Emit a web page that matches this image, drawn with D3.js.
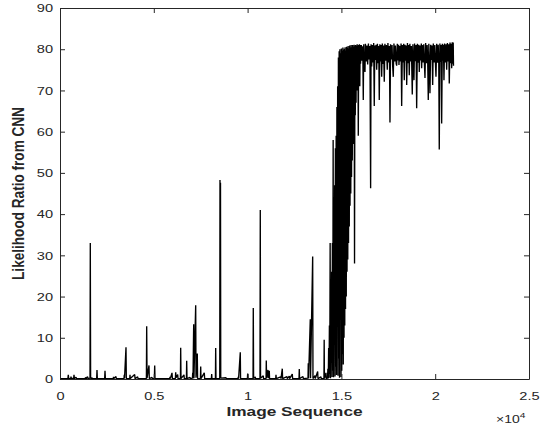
<!DOCTYPE html>
<html>
<head>
<meta charset="utf-8">
<script src="https://cdn.jsdelivr.net/npm/d3@7"></script>
<style>
  body { margin: 0; background: #fff; }
  svg { display: block; font-family: "Liberation Sans", Arial, Helvetica, sans-serif; }
</style>
</head>
<body>
<svg id="grafico" width="542" height="433"></svg>
<script>
// x axis ticks (image index) and y axis ticks (likelihood ratio)
const xTicks = [0, 5000, 10000, 15000, 20000, 25000];
const yTicks = [0, 10, 20, 30, 40, 50, 60, 70, 80, 90];

// low part of the sequence: baseline with isolated spikes  [image index, ratio]
const earlyFrames = [
  [0,0.1],[420,0.1],[442,1.0],[465,0.1],[570,0.1],[586,0.6],[605,0.1],[730,0.2],[746,1.0],[770,0.1],[853,0.4],[880,0.1],
  [1340,0.1],[1359,0.4],[1400,0.1],[1466,0.6],[1490,0.1],[1600,0.2],[1615,33],[1632,0.1],[1706,0.3],[1720,0.1],
  [1955,0.1],[1972,2.2],[1990,0.1],[2380,0.1],[2399,2.0],[2420,0.1],[2840,0.1],[2852,0.5],[2870,0.1],[2985,0.6],[3000,0.1],
  [3410,0.1],[3427,1.0],[3440,0.2],[3518,7.7],[3535,0.1],[3720,0.1],[3731,1.0],[3745,0.1],[3982,1.1],[4000,0.1],[4141,0.5],[4160,0.1],
  [4605,0.1],[4621,12.8],[4640,0.2],[4744,3.3],[4760,0.1],[4904,0.4],[4920,0.1],[5030,0.1],[5048,3.3],[5065,0.1],
  [5850,0.1],[5863,0.5],[5880,0.1],[5970,1.5],[5990,0.1],[6150,0.1],[6167,1.6],[6185,0.3],[6273,1.1],[6290,0.1],
  [6420,0.1],[6433,7.6],[6450,0.1],[6609,1.0],[6625,0.1],[6740,0.1],[6753,4.4],[6770,0.1],[6929,0.4],[6945,0.1],
  [7060,0.2],[7073,1.5],[7090,0.1],[7126,13.3],[7140,0.2],[7233,17.9],[7250,0.3],[7318,6.2],[7335,0.1],[7485,0.1],[7500,3.0],[7515,0.1],
  [7691,1.5],[7710,0.1],[8070,0.1],[8086,1.2],[8100,0.1],[8285,0.1],[8299,7.5],[8315,0.1],[8515,0.1],[8528,48.3],[8542,1.5],[8555,47.6],[8568,0.2],
  [8848,0.3],[8865,0.1],
  [9490,0.1],[9503,0.5],[9520,0.1],[9610,6.5],[9625,0.1],[9990,0.1],[10004,1.3],[10020,0.1],[10290,0.1],[10303,17.2],[10320,0.1],[10409,0.5],[10425,0.1],
  [10660,0.1],[10676,41.0],[10690,0.2],[10836,0.8],[10850,0.1],[10985,0.1],[10996,4.5],[11010,0.3],[11086,2.2],[11100,0.2],[11156,2.0],[11170,0.1],
  [11500,0.1],[11513,1.0],[11530,0.1],[11763,0.5],[11780,0.1],[11849,2.5],[11865,0.1],[12099,0.6],[12115,0.1],[12222,0.7],[12240,0.1],[12382,1.2],[12400,0.1],
  [12740,0.1],[12755,2.4],[12770,0.1],[12952,0.6],[12970,0.1],[13220,0.2],[13234,3.8],[13250,0.1],[13341,14.5],[13355,0.2],[13469,29.7],[13485,0.1],
  [13592,0.8],[13610,0.1],[13735,1.8],[13750,0.1],[13911,0.5],[13925,0.1],[14070,0.1],[14082,9.5],[14095,0.1],[14178,1.5],[14195,0.1]
];

// transition: ratio jumps between low and high while rising
const rampFrames = [
  [14260,0.2],[14280,2.5],[14300,0.1],[14320,7.5],[14340,0.3],[14360,13],[14380,1.2],[14400,33],[14420,0.2],[14440,23.5],
  [14460,4],[14480,26],[14500,0.5],[14520,33],[14540,2],[14560,58],[14580,0.4],[14600,44],[14620,9],[14640,47],
  [14660,0.6],[14680,56],[14700,3],[14720,59],[14740,1],[14760,66],[14780,15],[14800,71],[14820,0.8],[14840,78],
  [14860,5],[14880,79.5],[14900,0.3],[14920,80],[14940,22],[14960,79],[14980,0.5],[15000,80.2],[15020,2],[15040,79.6],
  [15060,6],[15080,80.4],[15100,3.5],[15120,79.8],[15140,10],[15160,80.1],[15180,13],[15200,80.5],[15220,17],[15240,79.7],
  [15260,20],[15280,80.6],[15300,26],[15320,80.3],[15340,29],[15360,80.8],[15380,33],[15400,80.2],[15420,37],[15440,80.9],
  [15460,42],[15480,80.4],[15500,45],[15520,81],[15540,49],[15560,80.5],[15580,53],[15600,81],[15620,57],[15640,80.6],
  [15660,60],[15680,81.1],[15700,28],[15720,80.7],[15740,64],[15760,81],[15780,67],[15800,80.8],[15820,70],[15840,81.2],
  [15860,72],[15880,80.9],[15900,59],[15920,81],[15940,74],[15960,81.2],[15980,71],[16000,81]
];

// plateau: ratio stays near 80 with occasional dips
const lateFrames = [
  [16020,76.5],[16060,81.0],[16100,77.2],[16140,80.7],[16166,67.7],[16190,81.2],[16220,76.0],[16257,74.5],[16280,81.3],[16320,77.0],
  [16360,80.9],[16400,76.3],[16440,81.4],[16480,77.5],[16520,80.8],[16558,46.3],[16580,81.2],[16614,75.8],[16650,81.0],[16690,76.8],
  [16720,81.5],[16752,66.2],[16780,80.9],[16820,77.4],[16850,81.1],[16880,75.0],[16920,81.3],[16960,76.6],[16990,80.8],[17019,67.7],
  [17050,81.2],[17090,77.0],[17120,81.0],[17147,73.3],[17180,81.4],[17220,76.4],[17250,80.9],[17285,72.1],[17320,81.3],[17360,77.2],
  [17400,81.0],[17445,75.0],[17480,81.5],[17520,76.8],[17560,80.8],[17589,62.2],[17620,81.2],[17660,77.5],[17700,81.0],[17730,76.2],
  [17765,73.3],[17800,81.4],[17840,77.0],[17880,80.9],[17920,76.5],[17946,76.0],[17980,81.3],[18020,77.3],[18050,81.1],[18069,76.2],
  [18100,80.8],[18140,77.0],[18180,81.4],[18213,66.2],[18250,81.0],[18290,76.8],[18320,81.3],[18352,72.5],[18390,81.1],[18430,77.2],
  [18460,80.9],[18480,71.3],[18520,81.5],[18560,76.6],[18590,81.0],[18618,73.7],[18650,81.3],[18690,77.0],[18730,80.8],[18778,69.0],
  [18810,81.2],[18840,76.9],[18868,72.5],[18900,81.4],[18940,77.1],[18980,81.0],[19012,65.7],[19050,81.3],[19090,76.7],[19120,81.1],
  [19151,74.5],[19190,80.9],[19230,77.3],[19260,81.4],[19279,75.4],[19310,81.0],[19350,76.8],[19390,81.2],[19420,77.0],[19455,73.0],
  [19490,81.5],[19530,76.6],[19570,81.0],[19600,77.2],[19631,67.7],[19660,81.3],[19690,76.9],[19721,69.3],[19760,81.1],[19800,77.4],
  [19830,80.9],[19865,71.3],[19900,81.4],[19940,76.8],[19980,81.0],[20010,77.1],[20041,73.3],[20080,81.3],[20120,76.7],[20160,81.1],
  [20190,77.0],[20217,55.7],[20250,81.4],[20290,76.9],[20320,81.0],[20345,62.0],[20380,81.3],[20420,77.2],[20440,81.1],[20467,72.5],
  [20500,81.4],[20540,76.8],[20580,81.2],[20611,75.0],[20650,81.5],[20690,77.0],[20720,81.2],[20750,71.7],[20790,81.6],[20830,76.6],
  [20860,81.3],[20878,75.4],[20910,81.7],[20940,76.5],[20960,81.6],[20975,76.0]
];

const xLabel = "Image Sequence";
const yLabel = "Likelihood Ratio from CNN";

const margin = {top: 8, right: 13, bottom: 54, left: 60};
const width = 542, height = 433;
const gW = width - margin.left - margin.right;
const gH = height - margin.top - margin.bottom;
const stretch = 1.27;   // figure text is a bit wider than tall
const axisColor = "#262626";

const svg = d3.select("#grafico");
const g = svg.append("g").attr("transform", "translate(" + margin.left + "," + margin.top + ")");

const x = d3.scaleLinear().domain([0, 25000]).range([0, gW]);
const y = d3.scaleLinear().domain([0, 90]).range([gH, 0]);

// -- the series ------------------------------------------------
const serie = earlyFrames.concat(rampFrames, lateFrames);
const line = d3.line()
  .x(function(d) { return x(d[0]); })
  .y(function(d) { return y(d[1]); });

g.append("path")
  .attr("d", line(serie))
  .attr("fill", "none")
  .attr("stroke", "#000")
  .attr("stroke-width", 1.35)
  .attr("stroke-linejoin", "bevel");

// -- axes (ticks inward, on all four sides) --------------------
function styleAxis(sel) {
  sel.select(".domain").attr("stroke", axisColor).attr("stroke-width", 1);
  sel.selectAll(".tick line").attr("stroke", axisColor);
  sel.selectAll(".tick text").attr("fill", axisColor).style("font-size", "11.5px");
}

const xAxis = d3.axisBottom(x).tickValues(xTicks)
  .tickFormat(function(d) { return d3.format("~g")(d / 10000); })
  .tickSizeInner(-5).tickSizeOuter(0).tickPadding(13);
const gx = g.append("g").attr("transform", "translate(0," + gH + ")").call(xAxis);
styleAxis(gx);
gx.selectAll(".tick text").attr("transform", "scale(" + stretch + ",1)");

const yAxis = d3.axisLeft(y).tickValues(yTicks)
  .tickSizeInner(-5).tickSizeOuter(0).tickPadding(7);
const gy = g.append("g").call(yAxis);
styleAxis(gy);
gy.selectAll(".tick text").attr("x", -7 / stretch).attr("transform", "scale(" + stretch + ",1)");

const gTop = g.append("g").call(d3.axisTop(x).tickValues(xTicks).tickFormat("").tickSizeInner(-5).tickSizeOuter(0));
styleAxis(gTop);
const gRight = g.append("g").attr("transform", "translate(" + gW + ",0)")
  .call(d3.axisRight(y).tickValues(yTicks).tickFormat("").tickSizeInner(-5).tickSizeOuter(0));
styleAxis(gRight);

// -- labels ----------------------------------------------------
svg.append("text")
  .attr("transform", "translate(" + (margin.left + gW / 2) + ",416) scale(" + stretch + ",1)")
  .attr("text-anchor", "middle")
  .style("font-size", "13.6px").style("font-weight", "bold")
  .attr("fill", axisColor)
  .text(xLabel);

svg.append("text")
  .attr("transform", "translate(24," + (margin.top + gH / 2) + ") scale(" + stretch + ",1) rotate(-90)")
  .attr("text-anchor", "middle")
  .style("font-size", "13.6px").style("font-weight", "bold")
  .attr("fill", axisColor)
  .text(yLabel);

// exponent of the x axis
const expo = svg.append("text")
  .attr("transform", "translate(496,423) scale(" + stretch + ",1)")
  .attr("fill", axisColor)
  .style("font-size", "11px");
expo.append("tspan").text("\u00d710");
expo.append("tspan").attr("dy", -5).style("font-size", "8px").text("4");
</script>
</body>
</html>
